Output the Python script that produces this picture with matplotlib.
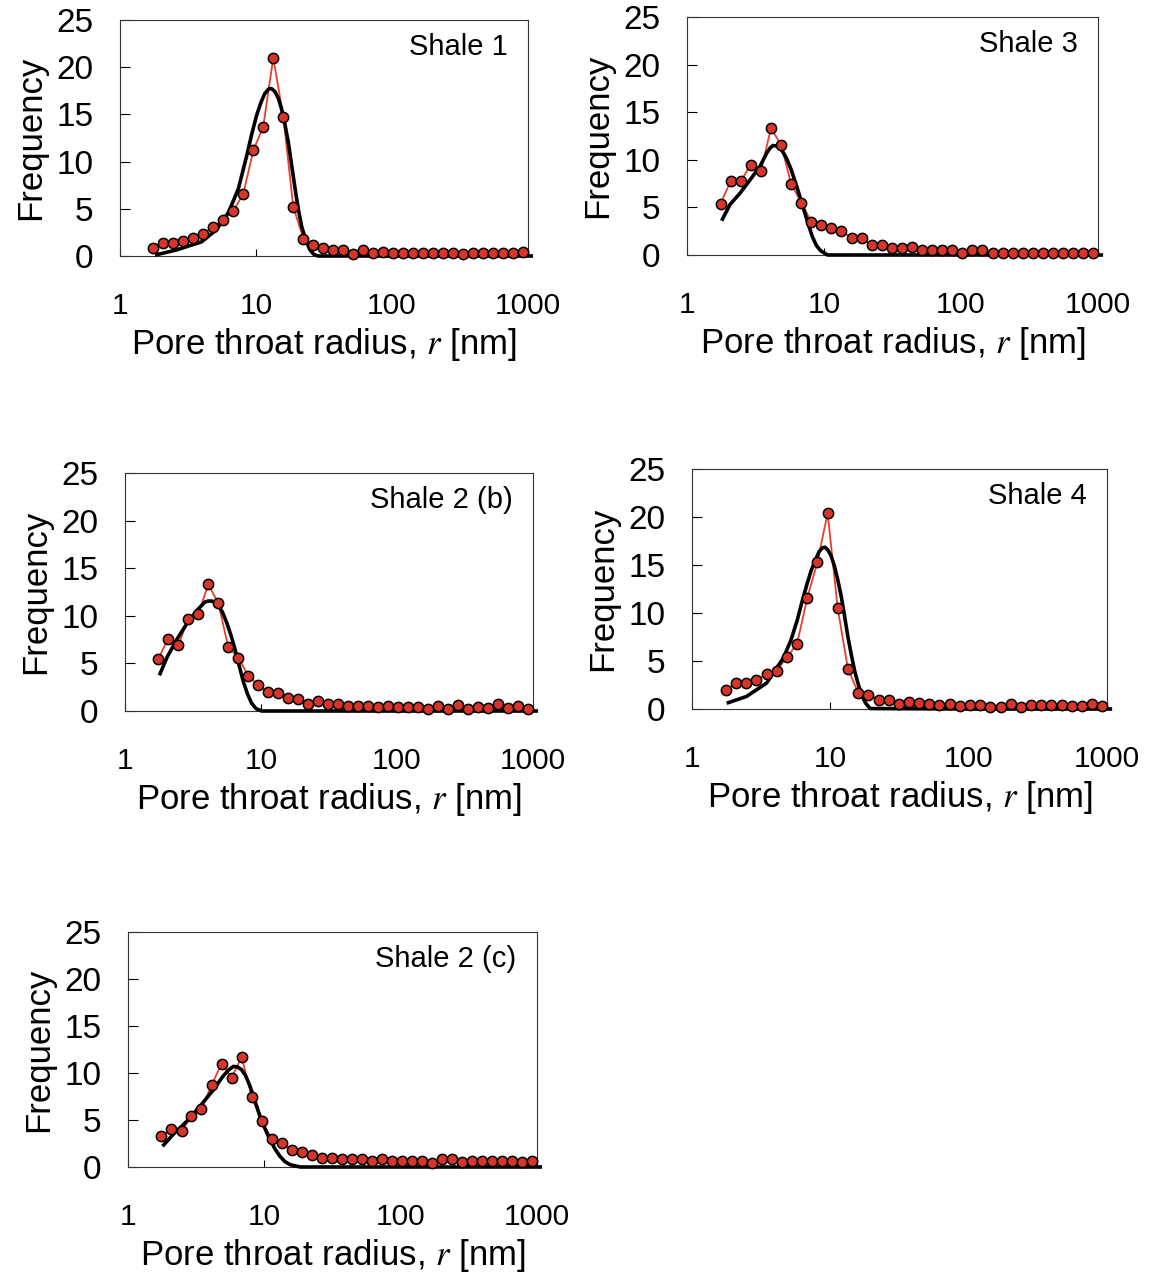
import numpy as np
import matplotlib
matplotlib.use('Agg')
import matplotlib.pyplot as plt

plt.rcParams['font.family'] = ['Liberation Sans', 'DejaVu Sans']
plt.rcParams['mathtext.fontset'] = 'stix'

# pore throat radius of the measured points [nm] (same grid for every sample)
radius = [1.76, 2.08, 2.47, 2.92, 3.46, 4.10, 4.86, 5.75, 6.82, 8.07,
          9.56, 11.3, 13.4, 15.9, 18.8, 22.3, 26.4, 31.3, 37.0, 43.9,
          51.9, 61.5, 72.9, 86.3, 102, 121, 143, 170, 201, 238,
          282, 334, 396, 469, 555, 658, 779, 923]

freq_shale1 = [0.9, 1.35, 1.35, 1.6, 1.9, 2.35, 3.1, 3.8, 4.8, 6.6,
               11.2, 13.7, 21.0, 14.7, 5.2, 1.85, 1.2, 0.8, 0.65, 0.65,
               0.2, 0.6, 0.3, 0.4, 0.3, 0.3, 0.35, 0.35, 0.35, 0.35,
               0.35, 0.2, 0.35, 0.35, 0.35, 0.35, 0.35, 0.4]
freq_shale3 = [5.4, 7.75, 7.75, 9.5, 8.8, 13.3, 11.6, 7.5, 5.5, 3.5,
               3.1, 2.8, 2.5, 1.8, 1.75, 1.05, 1.05, 0.7, 0.7, 0.8,
               0.55, 0.55, 0.55, 0.55, 0.2, 0.55, 0.55, 0.2, 0.2, 0.2,
               0.2, 0.2, 0.2, 0.2, 0.2, 0.2, 0.2, 0.25]
freq_shale2b = [5.5, 7.6, 6.9, 9.7, 10.2, 13.3, 11.3, 6.7, 5.6, 3.7,
                2.7, 1.95, 1.85, 1.35, 1.25, 0.75, 1.0, 0.7, 0.7, 0.55,
                0.55, 0.55, 0.4, 0.55, 0.4, 0.4, 0.4, 0.2, 0.55, 0.2,
                0.65, 0.2, 0.45, 0.3, 0.7, 0.3, 0.55, 0.2]
freq_shale4 = [1.95, 2.7, 2.7, 3.05, 3.65, 4.0, 5.4, 6.8, 11.6, 15.3,
               20.4, 10.5, 4.2, 1.7, 1.5, 0.95, 0.9, 0.55, 0.7, 0.6,
               0.55, 0.4, 0.55, 0.35, 0.4, 0.4, 0.2, 0.2, 0.55, 0.2,
               0.4, 0.4, 0.4, 0.4, 0.35, 0.35, 0.55, 0.35]
freq_shale2c = [3.25, 4.05, 3.8, 5.4, 6.2, 8.7, 11.0, 9.5, 11.7, 7.5,
                4.9, 3.0, 2.55, 1.85, 1.6, 1.25, 0.95, 1.0, 0.8, 0.8,
                0.8, 0.6, 0.85, 0.65, 0.65, 0.65, 0.65, 0.4, 0.85, 0.85,
                0.5, 0.65, 0.65, 0.65, 0.65, 0.65, 0.5, 0.65]

# fitted distributions (black curves)
fit_r_shale1 = [1.81, 2.61, 3.98, 5.14, 6.26, 7.41, 8.54, 9.3, 10.1, 10.9,
                11.6, 12.5, 13.1, 13.8, 14.6, 15.4, 16.3, 17.3, 18.3, 19.4,
                20.5, 21.7, 23.2, 24.9, 26.7, 28.7, 100, 1089]
fit_f_shale1 = [0.1, 0.65, 1.5, 2.8, 4.6, 7.1, 10.6, 12.9, 14.9, 16.3,
                17.2, 17.75, 17.7, 17.4, 16.7, 15.6, 14.0, 12.0, 9.6, 7.1,
                4.9, 3.1, 1.7, 0.65, 0.15, 0.0, 0.0, 0.0]
fit_r_shale3 = [1.79, 2.06, 2.44, 2.89, 3.42, 3.83, 4.05, 4.24, 4.50, 4.80,
                5.05, 5.37, 5.75, 6.19, 6.65, 7.13, 7.65, 8.21, 8.8, 9.45,
                10.6, 100, 1089]
fit_f_shale3 = [3.6, 5.3, 6.5, 7.9, 9.35, 10.75, 11.25, 11.5, 11.45, 11.2,
                10.75, 10.05, 9.0, 7.6, 6.2, 4.75, 3.3, 1.95, 1.0, 0.45,
                0.0, 0.0, 0.0]
fit_r_shale2b = [1.79, 2.03, 2.40, 2.84, 3.37, 3.87, 4.10, 4.34, 4.60, 4.86,
                 5.2, 5.59, 6.0, 6.44, 6.9, 7.41, 7.95, 8.54, 9.2, 10.1,
                 100, 1089]
fit_f_shale2b = [3.75, 5.6, 7.5, 9.15, 10.55, 11.45, 11.55, 11.55, 11.4, 11.1,
                 10.4, 9.3, 8.0, 6.5, 4.8, 3.1, 1.8, 0.8, 0.25, 0.0,
                 0.0, 0.0]
fit_r_shale4 = [1.78, 2.47, 3.46, 4.59, 5.2, 5.75, 6.25, 6.81, 7.3, 7.85,
                8.3, 8.78, 9.15, 9.55, 10.1, 10.7, 11.3, 12.0, 12.7, 13.4,
                14.2, 15.0, 15.9, 16.8, 18.0, 19.4, 100, 1089]
fit_f_shale4 = [0.6, 1.3, 2.7, 5.35, 7.2, 9.2, 11.2, 13.1, 14.5, 15.6,
                16.4, 16.8, 16.85, 16.6, 16.0, 14.9, 13.5, 11.7, 9.6, 7.5,
                5.6, 3.95, 2.6, 1.5, 0.6, 0.05, 0.0, 0.0]
fit_r_shale2c = [1.79, 2.14, 2.69, 3.37, 4.22, 5.0, 5.45, 5.92, 6.35, 6.81,
                 7.3, 7.85, 8.5, 9.29, 10.1, 11.0, 12.0, 13.0, 14.1, 15.4,
                 18.3, 100, 1089]
fit_f_shale2c = [2.2, 3.45, 4.85, 6.45, 8.2, 9.7, 10.3, 10.7, 10.65, 10.35,
                 9.7, 8.6, 7.1, 5.4, 4.1, 2.9, 1.9, 1.15, 0.6, 0.25,
                 0.0, 0.0, 0.0]

names = ['Shale 1', 'Shale 3', 'Shale 2 (b)', 'Shale 4', 'Shale 2 (c)']
freqs = [freq_shale1, freq_shale3, freq_shale2b, freq_shale4, freq_shale2c]
fits = [(fit_r_shale1, fit_f_shale1), (fit_r_shale3, fit_f_shale3),
        (fit_r_shale2b, fit_f_shale2b), (fit_r_shale4, fit_f_shale4),
        (fit_r_shale2c, fit_f_shale2c)]

# axes boxes in pixels: left, top, right, bottom
W, H = 1149, 1278
boxes = [(120, 20, 528, 256), (687, 17, 1098, 255),
         (125, 473, 533, 711), (692, 469, 1107, 709),
         (128, 932, 537, 1167)]

fig = plt.figure(figsize=(W / 100, H / 100), dpi=100)

for name, f, (fr, ff), (l, t, r, b) in zip(names, freqs, fits, boxes):
    ax = fig.add_axes([l / W, 1 - b / H, (r - l) / W, (b - t) / H])
    ax.plot(radius, f, color='#e8402a', lw=1.3, zorder=2)
    ax.plot(fr, ff, color='black', lw=2.6, zorder=3, clip_on=False,
            solid_capstyle='butt', solid_joinstyle='round')
    ax.plot(radius, f, 'o', ms=7.4, mfc='#d8352a', mec='black', mew=1.1,
            ls='none', zorder=4, clip_on=False)

    ax.set_xscale('log')
    ax.set_xlim(1, 1000)
    ax.set_ylim(0, 25)
    ax.set_xticks([1, 10, 100, 1000])
    ax.set_xticklabels(['1', '10', '100', '1000'])
    ax.xaxis.set_minor_locator(matplotlib.ticker.NullLocator())
    ax.set_yticks([0, 5, 10, 15, 20, 25])
    ax.tick_params(axis='x', direction='in', length=5, width=0.8,
                   labelsize=21.5, pad=26)
    ax.tick_params(axis='y', direction='in', length=7, width=0.8,
                   labelsize=24, pad=19)
    for sp in ax.spines.values():
        sp.set_linewidth(0.8)
        sp.set_color('#333333')

    ax.set_xlabel('Pore throat radius, $r$ [nm]', fontsize=25, labelpad=4)
    ax.set_ylabel('Frequency', fontsize=25, labelpad=7)
    ax.text(0.95, 0.945, name, transform=ax.transAxes, ha='right', va='top',
            fontsize=21)

fig.savefig('out.png', dpi=100)
